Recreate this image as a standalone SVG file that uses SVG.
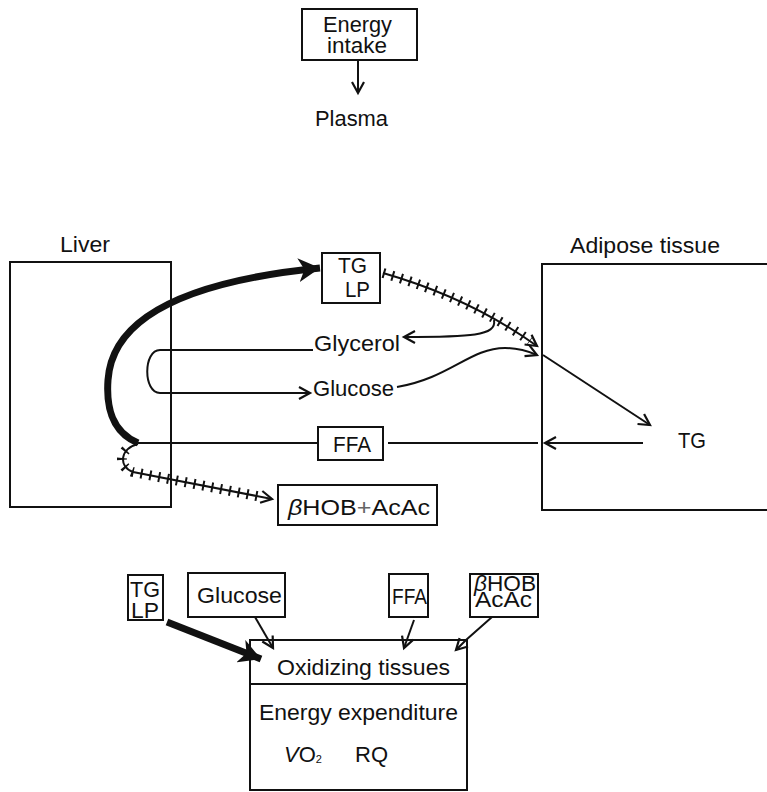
<svg xmlns="http://www.w3.org/2000/svg" width="767" height="792" viewBox="0 0 767 792">
<style>
text{font-family:"Liberation Sans",Arial,sans-serif;fill:#111;font-size:22px}
.box{fill:none;stroke:#111;stroke-width:2}
.ln{fill:none;stroke:#111;stroke-width:2}
.thick{fill:none;stroke:#111;stroke-width:7}
.tick{fill:none;stroke:#111;stroke-width:10;stroke-dasharray:2 7}
</style>
<defs>
<marker id="chev" markerUnits="userSpaceOnUse" markerWidth="16" markerHeight="16" refX="12" refY="7" orient="auto" viewBox="0 0 16 14">
<path d="M1,1 L12,7 L1,13" fill="none" stroke="#111" stroke-width="2.2"/>
</marker>
<marker id="tri" markerUnits="userSpaceOnUse" markerWidth="24" markerHeight="24" refX="18" refY="10" orient="auto" viewBox="0 0 20 20">
<path d="M0,0 L18,10 L0,20 L5,10 Z" fill="#111"/>
</marker>
</defs>

<g id="energy-intake">
<rect class="box" x="302" y="9" width="115" height="51"/>
<text x="323" y="32" font-size="20" textLength="69" lengthAdjust="spacingAndGlyphs">Energy</text>
<text x="327" y="53" font-size="20" textLength="60" lengthAdjust="spacingAndGlyphs">intake</text>
</g>
<g id="plasma"><text x="315" y="126" textLength="73" lengthAdjust="spacingAndGlyphs">Plasma</text></g>

<g id="liver">
<text x="60" y="252" textLength="50" lengthAdjust="spacingAndGlyphs">Liver</text>
<rect class="box" x="10" y="262" width="161" height="245"/>
</g>

<g id="adipose">
<text x="570" y="253" textLength="150" lengthAdjust="spacingAndGlyphs">Adipose tissue</text>
<path class="box" d="M770,264 H542 V510 H770"/>
<text x="678" y="448" textLength="28" lengthAdjust="spacingAndGlyphs">TG</text>
</g>

<g id="tg-lp-top">
<rect class="box" x="322" y="253" width="58" height="50"/>
<text x="338" y="273" textLength="29" lengthAdjust="spacingAndGlyphs">TG</text>
<text x="345" y="297" textLength="25" lengthAdjust="spacingAndGlyphs">LP</text>
</g>

<g id="glycerol"><text x="314" y="351" textLength="86" lengthAdjust="spacingAndGlyphs">Glycerol</text></g>
<g id="glucose"><text x="313" y="396" textLength="81" lengthAdjust="spacingAndGlyphs">Glucose</text></g>

<g id="ffa-mid">
<rect class="box" x="318" y="427" width="65" height="33"/>
<text x="333" y="452" font-size="21" textLength="38" lengthAdjust="spacingAndGlyphs">FFA</text>
</g>

<g id="hob-mid">
<rect class="box" x="278" y="485" width="159" height="40"/>
<text x="288" y="515" font-size="23" textLength="142" lengthAdjust="spacingAndGlyphs"><tspan font-style="italic">β</tspan>HOB<tspan font-weight="300" fill="#666">+</tspan>AcAc</text>
</g>

<g id="tg-lp-bottom">
<rect class="box" x="128" y="575" width="35" height="45"/>
<text x="130" y="597" textLength="30" lengthAdjust="spacingAndGlyphs">TG</text>
<text x="131" y="618" textLength="28" lengthAdjust="spacingAndGlyphs">LP</text>
</g>
<g id="glucose-bottom">
<rect class="box" x="188" y="573" width="97" height="44"/>
<text x="197" y="603" textLength="85" lengthAdjust="spacingAndGlyphs">Glucose</text>
</g>
<g id="ffa-bottom">
<rect class="box" x="389" y="574" width="39" height="43"/>
<text x="392" y="604" textLength="35" lengthAdjust="spacingAndGlyphs">FFA</text>
</g>
<g id="hob-bottom">
<rect class="box" x="470" y="574" width="68" height="43"/>
<text x="474" y="591" font-size="15" textLength="62" lengthAdjust="spacingAndGlyphs"><tspan font-style="italic">β</tspan>HOB</text>
<text x="475" y="607" font-size="15" textLength="57" lengthAdjust="spacingAndGlyphs">AcAc</text>
</g>

<g id="oxidizing-tissues">
<rect class="box" x="250" y="640" width="217" height="150"/>
<line class="ln" x1="250" y1="684" x2="467" y2="684"/>
<text x="277" y="675" textLength="173" lengthAdjust="spacingAndGlyphs">Oxidizing tissues</text>
<text x="259" y="720" textLength="199" lengthAdjust="spacingAndGlyphs">Energy expenditure</text>
<text x="284" y="762" font-size="18"><tspan font-style="italic">V</tspan>O<tspan font-size="11" dy="1">2</tspan></text>
<text x="355" y="762" font-size="13">RQ</text>
</g>

<g id="connectors">
<line class="ln" x1="358" y1="60" x2="358" y2="93" stroke-width="2.5" marker-end="url(#chev)"/>
<path class="thick" d="M138,443 C112,432 106,408 108,380 C112,320 180,282 320,268" marker-end="url(#tri)"/>
<path class="ln" d="M313,350 H160 C143,350 143,393 160,393 H310" marker-end="url(#chev)"/>
<path class="ln" d="M383,273 Q470,298 537,346" marker-end="url(#chev)"/>
<path class="tick" d="M383,273 Q470,298 530,341"/>
<path class="ln" d="M494,320 C497,336 470,337 404,337" marker-end="url(#chev)"/>
<path class="ln" d="M397,387 C450,378 470,348 505,348 C520,348 530,352 537,355" marker-end="url(#chev)"/>
<line class="ln" x1="543" y1="355" x2="650" y2="425" marker-end="url(#chev)"/>
<line class="ln" x1="643" y1="443" x2="545" y2="443" marker-end="url(#chev)"/>
<line class="ln" x1="388" y1="443" x2="538" y2="443"/>
<line class="ln" x1="318" y1="443" x2="138" y2="443"/>
<path class="ln" d="M138,444 C120,448 118,467 133,472 L272,499" marker-end="url(#chev)"/>
<path class="tick" d="M126,450 C119,457 121,468 133,472 L262,497"/>
<path class="thick" d="M167,622 L261,659" marker-end="url(#tri)"/>
<line class="ln" x1="255" y1="617" x2="273" y2="648" stroke-width="2.5" marker-end="url(#chev)"/>
<line class="ln" x1="414" y1="620" x2="404" y2="648" stroke-width="2.5" marker-end="url(#chev)"/>
<path class="ln" d="M492,617 L466,640 L456,650" stroke-width="2.5" marker-end="url(#chev)"/>
</g>
</svg>
